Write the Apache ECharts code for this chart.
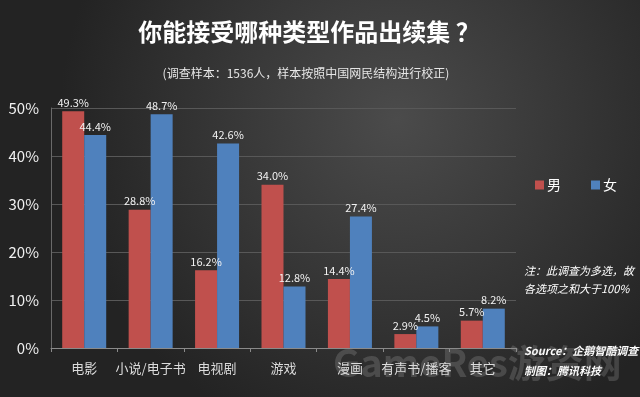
<!DOCTYPE html>
<html>
<head>
<meta charset="utf-8">
<script src="https://cdn.jsdelivr.net/npm/echarts@6/dist/echarts.min.js"></script>
<style>
  html, body { margin: 0; padding: 0; }
  #chart { width: 640px; height: 397px; }
</style>
</head>
<body>
<div id="chart"></div>
<script>
var categories = ['电影', '小说/电子书', '电视剧', '游戏', '漫画', '有声书/播客', '其它'];
var maleValues = [49.3, 28.8, 16.2, 34.0, 14.4, 2.9, 5.7];
var femaleValues = [44.4, 48.7, 42.6, 12.8, 27.4, 4.5, 8.2];
var seriesNames = ['男', '女'];

var FONT = '"Noto Sans CJK SC", "Noto Sans", sans-serif';

var chart = echarts.init(document.getElementById('chart'), null, { renderer: 'canvas' });

function barLabel() {
  return {
    show: true,
    position: 'top',
    distance: 3,
    color: '#f2f2f2',
    fontSize: 11,
    fontFamily: FONT,
    formatter: function (p) {
      return p.value.toFixed(1) + '%';
    }
  };
}

chart.setOption({
  animation: false,
  backgroundColor: {
    type: 'radial',
    x: 0.62,
    y: 0.3,
    r: 0.85,
    colorStops: [
      { offset: 0, color: '#4b4b4b' },
      { offset: 1, color: '#232323' }
    ]
  },
  title: [
    {
      text: '你能接受哪种类型作品出续集 ？',
      left: 304,
      top: 15,
      textAlign: 'center',
      textStyle: {
        color: '#ffffff',
        fontSize: 24,
        fontWeight: 'bold',
        fontFamily: FONT
      }
    },
    {
      text: '(调查样本：1536人，样本按照中国网民结构进行校正)',
      left: 301,
      top: 62,
      textAlign: 'center',
      textStyle: {
        color: '#e6e6e6',
        fontSize: 12,
        fontWeight: 'normal',
        fontFamily: FONT
      }
    }
  ],
  legend: {
    left: 530,
    top: 173,
    itemWidth: 9,
    itemHeight: 9,
    itemGap: 30,
    icon: 'rect',
    data: seriesNames,
    textStyle: {
      color: '#ffffff',
      fontSize: 14,
      fontFamily: FONT,
      padding: [0, 0, 0, -2]
    }
  },
  grid: {
    left: 51,
    right: 124,
    top: 108,
    bottom: 49,
    containLabel: false
  },
  xAxis: {
    type: 'category',
    data: categories,
    boundaryGap: true,
    axisLine: { lineStyle: { color: '#8a8a8a', width: 1 } },
    axisTick: { show: true, length: 4, lineStyle: { color: '#8a8a8a' } },
    axisLabel: {
      color: '#dcdcdc',
      fontSize: 13,
      fontFamily: FONT,
      margin: 14,
      interval: 0
    }
  },
  yAxis: {
    type: 'value',
    min: 0,
    max: 50,
    interval: 10,
    axisLine: { show: true, lineStyle: { color: '#6a6a6a' } },
    axisTick: { show: false },
    splitLine: { lineStyle: { color: '#585858', width: 1 } },
    axisLabel: {
      color: '#f0f0f0',
      fontSize: 15,
      fontFamily: FONT,
      margin: 12,
      formatter: '{value}%'
    }
  },
  series: [
    {
      name: seriesNames[0],
      type: 'bar',
      data: maleValues,
      barWidth: 22,
      barGap: '0%',
      itemStyle: { color: '#c0504d' },
      label: barLabel()
    },
    {
      name: seriesNames[1],
      type: 'bar',
      data: femaleValues,
      barWidth: 22,
      barGap: '0%',
      itemStyle: { color: '#4f81bd' },
      label: barLabel()
    }
  ],
  graphic: [
    {
      type: 'text',
      left: 524,
      top: 262,
      style: {
        text: '注：此调查为多选，故\n各选项之和大于100%',
        fill: '#ffffff',
        fontSize: 11,
        fontStyle: 'italic',
        lineHeight: 18,
        fontFamily: FONT
      }
    },
    {
      type: 'text',
      left: 524,
      top: 341,
      style: {
        text: 'Source：企鹅智酷调查\n制图：腾讯科技',
        fill: '#ffffff',
        fontSize: 11,
        fontStyle: 'italic',
        fontWeight: 'bold',
        lineHeight: 20,
        fontFamily: FONT
      }
    },
    {
      type: 'text',
      left: 333,
      top: 344,
      silent: true,
      style: {
        text: 'GameRes游资网',
        fill: 'rgba(200,200,200,0.2)',
        fontSize: 38,
        fontWeight: 'bold',
        fontFamily: FONT
      }
    }
  ]
});
</script>
</body>
</html>
